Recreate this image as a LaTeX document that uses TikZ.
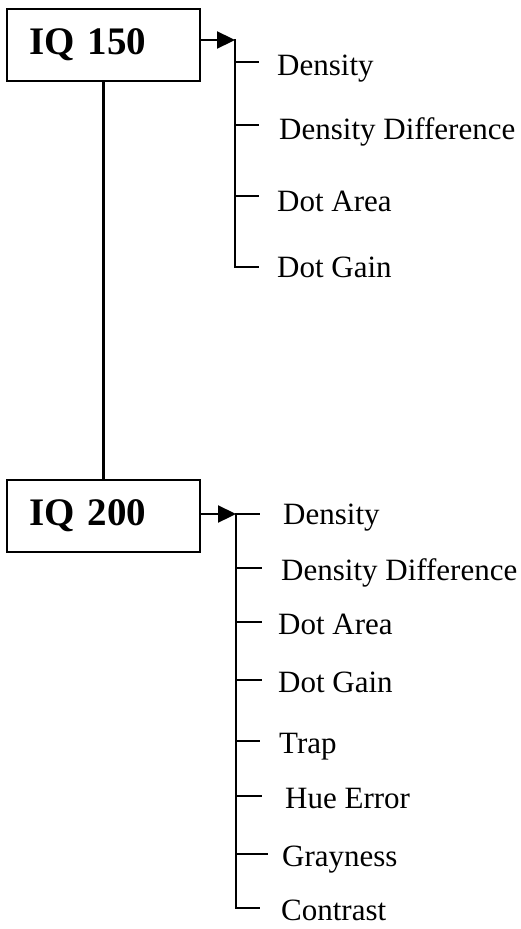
\documentclass[tikz,border=0pt]{standalone}
\usepackage{fontspec}
\setmainfont{Liberation Serif}
\usetikzlibrary{arrows.meta}
\begin{document}
\begin{tikzpicture}[x=1pt,y=-1pt,
  iqbox/.style={draw,line width=2.3pt,minimum width=193pt,minimum height=72pt,
    text width=149pt,align=left,inner xsep=22pt,font=\fontsize{39}{44}\selectfont\bfseries},
  conn/.style={line width=2.3pt},
  feed/.style={line width=2.3pt,-{Triangle[length=18pt,width=17pt]}},
  lbl/.style={anchor=base west,inner sep=0pt,font=\fontsize{31}{34}\selectfont}]
\useasboundingbox (0,0) rectangle (521,929);
% boxes
\node[iqbox] (q150) at (103.5,45) {IQ 150};
\node[iqbox] (q200) at (103.5,516) {IQ 200};
\draw[conn] (q150.south) -- (q200.north);
% bracket 1
\coordinate (a0) at (235,40);
\coordinate (a1) at (235,62);
\coordinate (a2) at (235,125);
\coordinate (a3) at (235,196);
\coordinate (a4) at (235,267);
\node[lbl] (la1) at (277,75) {Density};
\node[lbl] (la2) at (279,139) {Density Difference};
\node[lbl] (la3) at (277,211) {Dot Area};
\node[lbl] (la4) at (277,277) {Dot Gain};
\draw[feed] (q150.east |- a0) -- (a0);
\draw[conn,line cap=rect] (a0) -- (a4);
\draw[conn] (a1) -- ++(24,0);
\draw[conn] (a2) -- ++(24,0);
\draw[conn] (a3) -- ++(24,0);
\draw[conn] (a4) -- ++(24,0);
% bracket 2
\coordinate (b0) at (236,514);
\coordinate (b2) at (236,568);
\coordinate (b3) at (236,622);
\coordinate (b4) at (236,680);
\coordinate (b5) at (236,741);
\coordinate (b6) at (236,796);
\coordinate (b7) at (236,854);
\coordinate (b8) at (236,908);
\node[lbl] (lb1) at (283,524) {Density};
\node[lbl] (lb2) at (281,580) {Density Difference};
\node[lbl] (lb3) at (278,634) {Dot Area};
\node[lbl] (lb4) at (278,692) {Dot Gain};
\node[lbl] (lb5) at (279,753) {Trap};
\node[lbl] (lb6) at (285,808) {Hue Error};
\node[lbl] (lb7) at (282,866) {Grayness};
\node[lbl] (lb8) at (281,920) {Contrast};
\draw[feed] (q200.east |- b0) -- (b0);
\draw[conn,line cap=rect] (b0) -- (b8);
\draw[conn] (b0) -- ++(24,0);
\draw[conn] (b2) -- ++(26,0);
\draw[conn] (b3) -- ++(26,0);
\draw[conn] (b4) -- ++(26,0);
\draw[conn] (b5) -- ++(24,0);
\draw[conn] (b6) -- ++(26,0);
\draw[conn] (b7) -- ++(32,0);
\draw[conn] (b8) -- ++(24,0);
\end{tikzpicture}
\end{document}
